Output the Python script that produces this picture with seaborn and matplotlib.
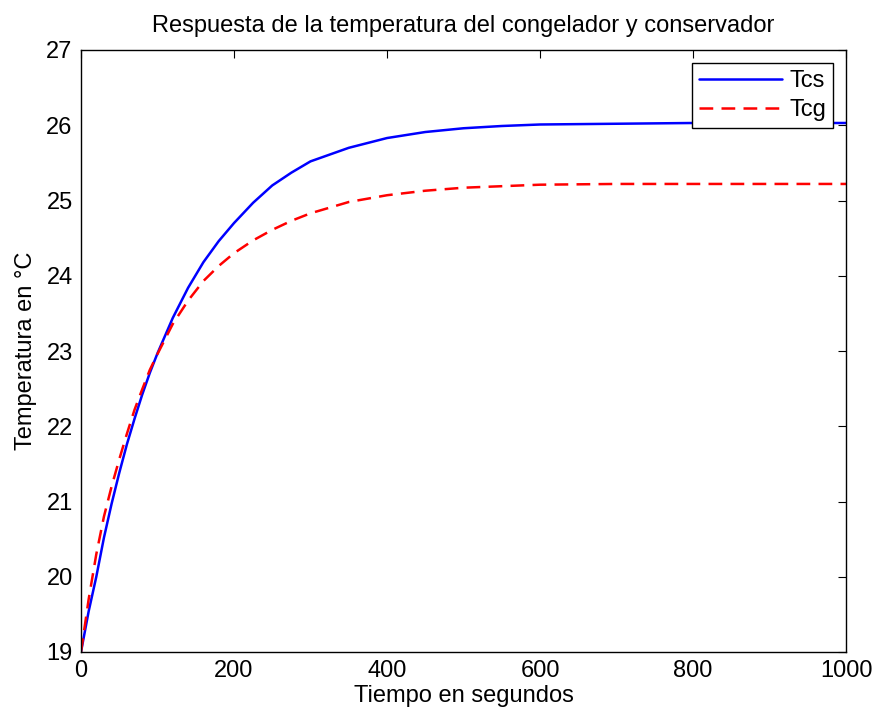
import numpy as np
import pandas as pd
import matplotlib
matplotlib.use("Agg")
import matplotlib.pyplot as plt
import seaborn as sns

# Time samples (s)
tiempo = [0, 10, 20, 30, 40, 50, 60, 70, 80, 90, 100, 120, 140, 160, 180,
          200, 225, 250, 275, 300, 350, 400, 450, 500, 550, 600, 700, 800,
          900, 1000]

# Conservador temperature (Tcs)
tcs = [19.00, 19.54, 20.00, 20.52, 20.97, 21.38, 21.76, 22.10, 22.42, 22.71,
       22.97, 23.44, 23.84, 24.18, 24.46, 24.70, 24.97, 25.20, 25.37, 25.52,
       25.70, 25.83, 25.91, 25.96, 25.99, 26.01, 26.02, 26.03, 26.03, 26.03]

# Congelador temperature (Tcg)
tcg = [19.00, 19.70, 20.30, 20.80, 21.20, 21.56, 21.90, 22.22, 22.49, 22.75,
       22.96, 23.36, 23.67, 23.93, 24.13, 24.30, 24.47, 24.61, 24.73, 24.83,
       24.98, 25.07, 25.13, 25.17, 25.19, 25.21, 25.22, 25.22, 25.22, 25.22]

series = ["Tcs", "Tcg"]
x_ticks = [0, 200, 400, 600, 800, 1000]
y_ticks = [19, 20, 21, 22, 23, 24, 25, 26, 27]

df = pd.DataFrame({
    "t": tiempo * 2,
    "T": tcs + tcg,
    "serie": ["Tcs"] * len(tiempo) + ["Tcg"] * len(tiempo),
})

sns.set_style("white")
plt.rcParams["font.family"] = ["Liberation Sans", "DejaVu Sans"]
plt.rcParams["text.color"] = "black"
plt.rcParams["axes.labelcolor"] = "black"
FS = 17

fig = plt.figure(figsize=(8.74, 7.14), dpi=100)
ax = fig.add_axes([81 / 874, 62 / 714, 765 / 874, 602 / 714])

sns.lineplot(data=df, x="t", y="T", hue="serie", style="serie",
             hue_order=series, style_order=series,
             palette={"Tcs": "#0000ff", "Tcg": "#ff0000"},
             dashes={"Tcs": "", "Tcg": (5.5, 3.3)},
             linewidth=1.8, ax=ax, legend=False)

ax.set_xlim(0, 1000)
ax.set_ylim(19, 27)
ax.set_xticks(x_ticks)
ax.set_yticks(y_ticks)
ax.tick_params(direction="in", length=6, width=0.8, top=True, right=True,
               labelsize=FS, colors="black", pad=6)
for s in ax.spines.values():
    s.set_visible(True)
    s.set_color("black")
    s.set_linewidth(1.0)

ax.set_title("Respuesta de la temperatura del congelador y conservador",
             fontsize=FS, pad=13, color="black")
ax.set_xlabel("Tiempo en segundos", fontsize=FS, labelpad=2)
ax.set_ylabel("Temperatura en °C", fontsize=FS, labelpad=7)

handles = ax.get_lines()[:2]
leg = ax.legend(handles, series, loc="upper right", fontsize=FS,
                frameon=True, fancybox=False, edgecolor="black",
                framealpha=1, handlelength=3.5, borderaxespad=0.55,
                borderpad=0.3, labelspacing=0.3, handletextpad=0.3)
leg.get_frame().set_linewidth(1.0)

fig.savefig("out.png", dpi=100)
